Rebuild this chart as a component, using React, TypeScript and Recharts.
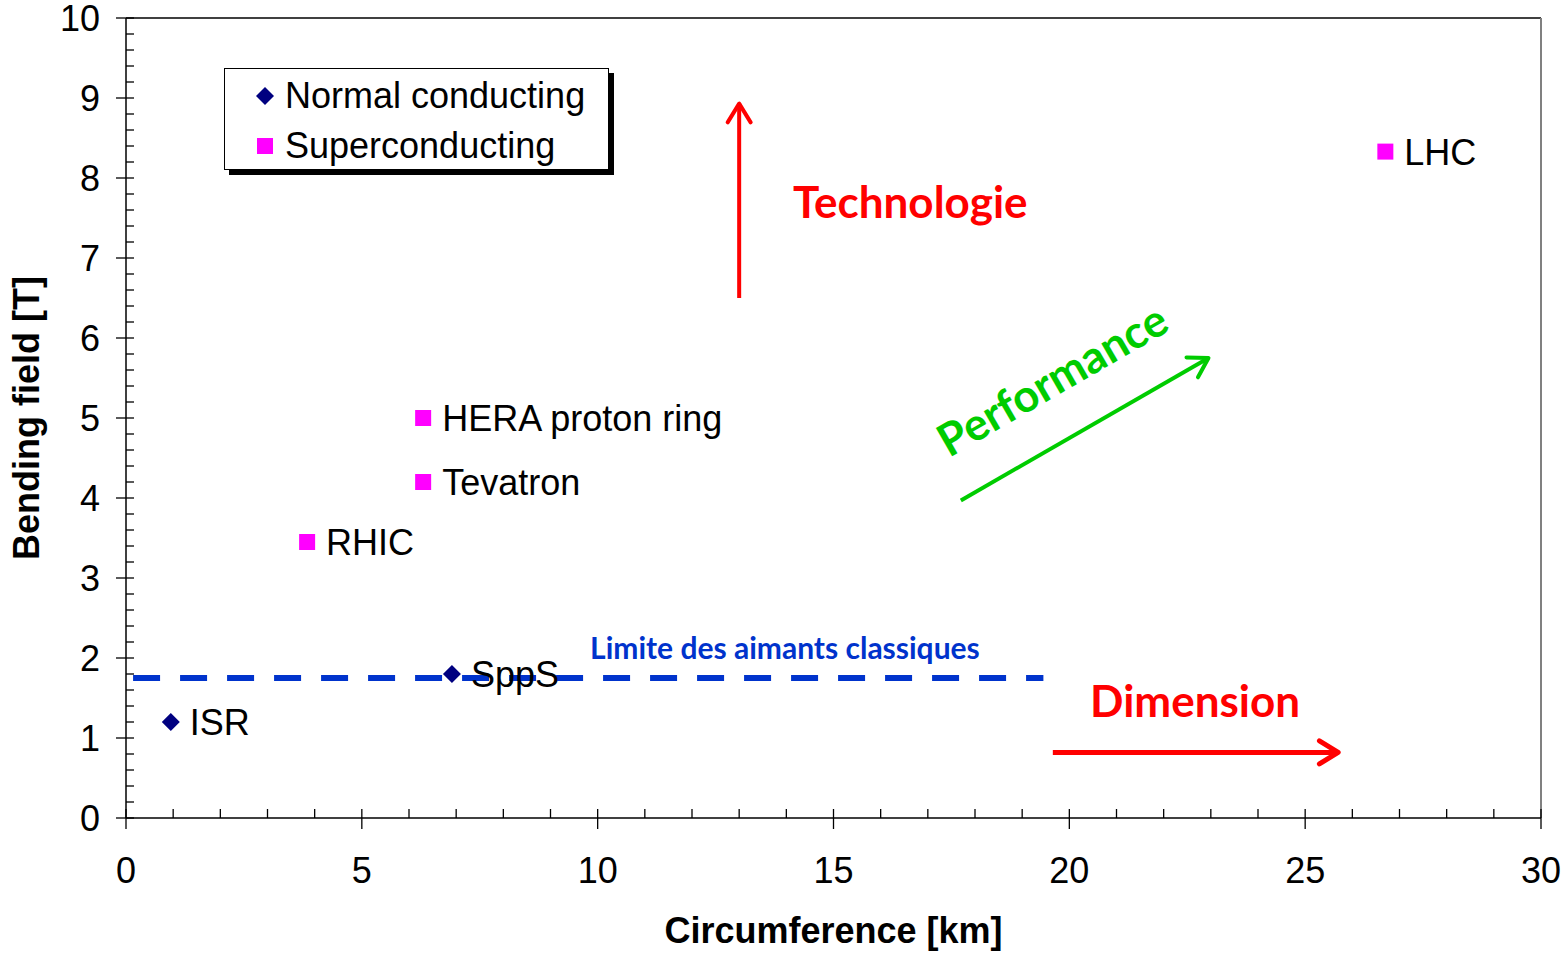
import React from 'react'
import { ScatterChart, Scatter, XAxis, YAxis, ReferenceLine, ReferenceDot, Legend, Label } from 'recharts'

// Machines: circumference [km] vs bending field [T]
const normalConducting = [
  { name: 'ISR', circumference: 0.95, field: 1.2 },
  { name: 'SppS', circumference: 6.91, field: 1.8 },
]

const superconducting = [
  { name: 'RHIC', circumference: 3.84, field: 3.45 },
  { name: 'Tevatron', circumference: 6.3, field: 4.2 },
  { name: 'HERA proton ring', circumference: 6.3, field: 5.0 },
  { name: 'LHC', circumference: 26.7, field: 8.33 },
]

const xMajorTicks = [0, 5, 10, 15, 20, 25, 30]
const yMajorTicks = [0, 1, 2, 3, 4, 5, 6, 7, 8, 9, 10]
// minor tick steps: 1 km and 0.2 T
const xAllTicks = Array.from({ length: 31 }, (_, i) => i)
const yAllTicks = Array.from({ length: 51 }, (_, i) => Math.round(i * 2) / 10)

// "classic magnet" limit line, in data units
const classicLimit = { field: 1.75, from: 0.15, to: 19.45 }

// annotation arrows [start, end] in data units
const technoArrow = [{ x: 13.0, y: 6.5 }, { x: 13.0, y: 8.93 }]
const dimensionArrow = [{ x: 19.65, y: 0.82 }, { x: 25.7, y: 0.82 }]
const performanceArrow = [{ x: 17.7, y: 3.97 }, { x: 22.95, y: 5.75 }]

const notes = [
  { text: 'Technologie', x: 14.14, y: 7.5, color: '#FF0000', size: 44, angle: 0 },
  { text: 'Dimension', x: 20.44, y: 1.26, color: '#FF0000', size: 44, angle: 0 },
  { text: 'Performance', x: 17.45, y: 4.5, color: '#00CC00', size: 45, angle: -30 },
  { text: 'Limite des aimants classiques', x: 9.84, y: 1.99, color: '#0033CC', size: 30, angle: 0 },
]

const ARIAL = '"Liberation Sans", Arial, sans-serif'
const CALIBRI = 'Lato, "Open Sans", sans-serif'
const FONT_SIZE = 36

const makeArrow = (color: string, width: number) => (p: any) => {
  const { x1, y1, x2, y2 } = p
  const a = Math.atan2(y2 - y1, x2 - x1)
  const len = 22
  const spread = 0.55
  const h1 = [x2 - len * Math.cos(a - spread), y2 - len * Math.sin(a - spread)]
  const h2 = [x2 - len * Math.cos(a + spread), y2 - len * Math.sin(a + spread)]
  return (
    <g>
      <line x1={x1} y1={y1} x2={x2} y2={y2} stroke={color} strokeWidth={width} />
      <polyline
        points={`${h1[0]},${h1[1]} ${x2},${y2} ${h2[0]},${h2[1]}`}
        fill="none"
        stroke={color}
        strokeWidth={width}
        strokeLinecap="round"
        strokeLinejoin="round"
      />
    </g>
  )
}

// x ticks: major cross the axis and carry a label, minor sit inside
const XTick = (p: any) => {
  const major = xMajorTicks.includes(p.payload.value)
  return (
    <g>
      <line x1={p.x} x2={p.x} y1={p.y - 9} y2={major ? p.y + 11 : p.y} stroke="#000" strokeWidth={1.3} />
      {major && (
        <text x={p.x} y={p.y + 39} dy="0.71em" textAnchor="middle" fontFamily={ARIAL} fontSize={FONT_SIZE} fill="#000">
          {p.payload.value}
        </text>
      )}
    </g>
  )
}

const YTick = (p: any) => {
  const major = yMajorTicks.includes(p.payload.value)
  return (
    <g>
      <line x1={major ? p.x - 10 : p.x} x2={p.x + 8} y1={p.y} y2={p.y} stroke="#000" strokeWidth={1.3} />
      {major && (
        <text x={p.x - 26} y={p.y} dy="0.36em" textAnchor="end" fontFamily={ARIAL} fontSize={FONT_SIZE} fill="#000">
          {p.payload.value}
        </text>
      )}
    </g>
  )
}

const Diamond = (p: any) => (
  <g>
    <polygon
      points={`${p.cx},${p.cy - 9} ${p.cx + 9},${p.cy} ${p.cx},${p.cy + 9} ${p.cx - 9},${p.cy}`}
      fill="#000080"
    />
    <text x={p.cx + 19} y={p.cy} dy="0.36em" fontFamily={ARIAL} fontSize={FONT_SIZE} fill="#000">
      {p.payload.name}
    </text>
  </g>
)

const Square = (p: any) => (
  <g>
    <rect x={p.cx - 8} y={p.cy - 8} width={16} height={16} fill="#FF00FF" />
    <text x={p.cx + 19} y={p.cy} dy="0.36em" fontFamily={ARIAL} fontSize={FONT_SIZE} fill="#000">
      {p.payload.name}
    </text>
  </g>
)

const LegendBox = ({ payload }: any) => (
  <div
    style={{
      width: 385,
      height: 102,
      boxSizing: 'border-box',
      border: '1.5px solid #000',
      boxShadow: '5px 5px 0 #000',
      background: '#fff',
      padding: '2px 0 0 31px',
      fontFamily: ARIAL,
      fontSize: FONT_SIZE,
      color: '#000',
    }}
  >
    {(payload || []).map((entry: any) => (
      <div key={entry.value} style={{ display: 'flex', alignItems: 'center', height: 50 }}>
        <svg width={18} height={18} style={{ flex: 'none' }}>
          {entry.type === 'diamond' ? (
            <polygon points="9,0 18,9 9,18 0,9" fill="#000080" />
          ) : (
            <rect x={1} y={1} width={16} height={16} fill="#FF00FF" />
          )}
        </svg>
        <span style={{ marginLeft: 11, lineHeight: 1 }}>{entry.value}</span>
      </div>
    ))}
  </div>
)

export default function App() {
  return (
    <div style={{ position: 'absolute', left: 0, top: 0, background: '#fff' }}>
      <ScatterChart width={1567} height={953} margin={{ top: 18, right: 26, left: 0, bottom: 0 }}>
        <XAxis
          type="number"
          dataKey="circumference"
          domain={[0, 30]}
          ticks={xAllTicks}
          interval={0}
          height={135}
          tickLine={false}
          tickSize={0}
          tickMargin={0}
          stroke="#000"
          strokeWidth={1.5}
          tick={XTick}
        >
          <Label
            content={({ viewBox }: any) => (
              <text
                x={viewBox.x + viewBox.width / 2}
                y={viewBox.y + 125}
                textAnchor="middle"
                fontFamily={ARIAL}
                fontWeight="bold"
                fontSize={FONT_SIZE}
                fill="#000"
              >
                Circumference [km]
              </text>
            )}
          />
        </XAxis>
        <YAxis
          type="number"
          dataKey="field"
          domain={[0, 10]}
          ticks={yAllTicks}
          interval={0}
          width={126}
          tickLine={false}
          tickSize={0}
          tickMargin={0}
          stroke="#000"
          strokeWidth={1.5}
          tick={YTick}
        >
          <Label
            content={({ viewBox }: any) => (
              <text
                x={26}
                y={viewBox.y + viewBox.height / 2}
                transform={`rotate(-90 26 ${viewBox.y + viewBox.height / 2})`}
                textAnchor="middle"
                dominantBaseline="central"
                fontFamily={ARIAL}
                fontWeight="bold"
                fontSize={FONT_SIZE}
                fill="#000"
              >
                Bending field [T]
              </text>
            )}
          />
        </YAxis>

        <ReferenceLine y={10} stroke="#000" strokeWidth={1.5} ifOverflow="visible" />
        <ReferenceLine x={30} stroke="#808080" strokeWidth={2} ifOverflow="visible" />

        <ReferenceLine
          segment={[
            { x: classicLimit.from, y: classicLimit.field },
            { x: classicLimit.to, y: classicLimit.field },
          ]}
          stroke="#0033CC"
          strokeWidth={6}
          strokeDasharray="27 20"
          ifOverflow="visible"
        />
        <ReferenceLine segment={technoArrow} ifOverflow="visible" shape={makeArrow('#FF0000', 4)} />
        <ReferenceLine segment={dimensionArrow} ifOverflow="visible" shape={makeArrow('#FF0000', 5)} />
        <ReferenceLine segment={performanceArrow} ifOverflow="visible" shape={makeArrow('#00CC00', 4)} />

        {notes.map((n) => (
          <ReferenceDot
            key={n.text}
            x={n.x}
            y={n.y}
            r={1}
            ifOverflow="visible"
            shape={(p: any) => (
              <text
                x={p.cx}
                y={p.cy}
                transform={n.angle ? `rotate(${n.angle} ${p.cx} ${p.cy})` : undefined}
                fontFamily={CALIBRI}
                fontWeight="bold"
                fontSize={n.size}
                fill={n.color}
              >
                {n.text}
              </text>
            )}
          />
        ))}

        <Scatter
          name="Normal conducting"
          data={normalConducting}
          legendType="diamond"
          fill="#000080"
          shape={Diamond}
          isAnimationActive={false}
        />
        <Scatter
          name="Superconducting"
          data={superconducting}
          legendType="square"
          fill="#FF00FF"
          shape={Square}
          isAnimationActive={false}
        />

        <Legend
          layout="vertical"
          align="center"
          verticalAlign="middle"
          wrapperStyle={{ left: 224, top: 68, width: 'auto' }}
          content={LegendBox}
        />
      </ScatterChart>
    </div>
  )
}
